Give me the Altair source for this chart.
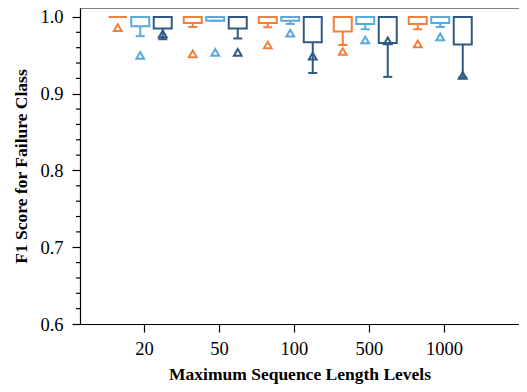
import json
import altair as alt
import pandas as pd

levels = ["20", "50", "100", "500", "1000"]
series = ["S1", "S2", "S3"]
colors = ["#f0803c", "#5aa9dd", "#2f5a86"]
offsets = [-0.35, -0.05, 0.25]

q3 = {
    "S1": [1.0, 1.0, 1.0, 1.0, 1.0],
    "S2": [1.0, 1.0, 1.0, 1.0, 1.0],
    "S3": [1.0, 1.0, 1.0, 1.0, 1.0],
}
median = {
    "S1": [1.0, 1.0, 1.0, 1.0, 1.0],
    "S2": [1.0, 1.0, 1.0, 1.0, 1.0],
    "S3": [1.0, 1.0, 1.0, 1.0, 1.0],
}
q1 = {
    "S1": [1.0, 0.992, 0.992, 0.981, 0.991],
    "S2": [0.988, 0.995, 0.995, 0.991, 0.992],
    "S3": [0.985, 0.985, 0.967, 0.966, 0.964],
}
whisk_lo = {
    "S1": [1.0, 0.987, 0.9866, 0.9635, 0.984],
    "S2": [0.975, 0.995, 0.991, 0.984, 0.987],
    "S3": [0.971, 0.972, 0.927, 0.922, 0.921],
}
mean = {
    "S1": [0.986, 0.952, 0.9635, 0.955, 0.965],
    "S2": [0.950, 0.954, 0.979, 0.970, 0.974],
    "S3": [0.978, 0.954, 0.949, 0.969, 0.924],
}
y_ticks = [0.6, 0.7, 0.8, 0.9, 1.0]
y_minor = [0.62, 0.64, 0.66, 0.68, 0.72, 0.74, 0.76, 0.78, 0.82, 0.84, 0.86, 0.88, 0.92, 0.94, 0.96, 0.98]

BOX_HALF = 0.12
CAP_HALF = 0.06
rows = []
for si, s in enumerate(series):
    for li, lev in enumerate(levels):
        xc = li + 1 + offsets[si]
        rows.append(dict(series=s, level=lev, xc=xc,
                         bx=xc - BOX_HALF, bx2=xc + BOX_HALF,
                         cx=xc - CAP_HALF, cx2=xc + CAP_HALF,
                         q1=q1[s][li], q3=q3[s][li], med=median[s][li],
                         lo=whisk_lo[s][li], mean=mean[s][li]))
df = pd.DataFrame(rows)

W, H = 439, 316
xscale = alt.Scale(domain=[0.1467, 0.1467 + W / 75], nice=False, zero=False)
yscale = alt.Scale(domain=[0.6, 1.0117], nice=False, zero=False)
color = alt.Color("series:N", scale=alt.Scale(domain=series, range=colors), legend=None)

FONT = "Liberation Serif"
label_expr = "%s[datum.value - 1]" % json.dumps(levels)

base = alt.Chart(df)

whisker = base.mark_rule(strokeWidth=2).encode(
    x=alt.X("xc:Q", scale=xscale,
            axis=alt.Axis(values=[1, 2, 3, 4, 5], labelExpr=label_expr,
                          title="Maximum Sequence Length Levels", grid=False)),
    y=alt.Y("lo:Q", scale=yscale,
            axis=alt.Axis(values=y_ticks, format=".1f",
                          title="F1 Score for Failure Class", grid=False)),
    y2="q1:Q",
    color=color,
)
cap = base.mark_rule(strokeWidth=2).encode(
    x="cx:Q", x2="cx2:Q", y="lo:Q", color=color)
box = base.mark_rect(fill=None, fillOpacity=0, strokeWidth=2).encode(
    x="bx:Q", x2="bx2:Q", y="q1:Q", y2="q3:Q", stroke=color)
med = base.mark_rule(strokeWidth=2).encode(
    x="bx:Q", x2="bx2:Q", y="med:Q", color=color)
means = base.mark_point(shape="triangle-up", filled=False, size=60, strokeWidth=2, opacity=1).encode(
    x="xc:Q", y="mean:Q", color=color)

minor = alt.Chart(pd.DataFrame({"v": y_minor})).mark_rule(color="black", strokeWidth=1.2, clip=False).encode(
    y=alt.Y("v:Q", scale=yscale), x=alt.value(-4), x2=alt.value(0))
top = alt.Chart(pd.DataFrame({"v": [0]})).mark_rule(color="black", strokeWidth=1.2).encode(
    x=alt.value(0), x2=alt.value(W), y=alt.value(0))

chart = alt.layer(whisker, cap, box, med, means, minor, top).properties(
    width=W, height=H,
    autosize=alt.AutoSizeParams(type="none"),
    padding={"left": 72, "top": 0, "right": 0, "bottom": 67},
).configure_view(stroke=None).configure_axis(
    labelFont=FONT, titleFont=FONT, labelFontSize=18.5, titleFontSize=17.5,
    labelColor="black", titleColor="black", domainColor="black", tickColor="black",
    domainWidth=1.2, tickWidth=1.2, tickSize=8,
).configure_axisX(
    labelPadding=7, titlePadding=8, titleFontWeight="bold",
).configure_axisY(
    labelPadding=9, titlePadding=9, titleFontWeight="bold",
)

chart.save("out.html", embed_options={"renderer": "svg", "actions": False})
